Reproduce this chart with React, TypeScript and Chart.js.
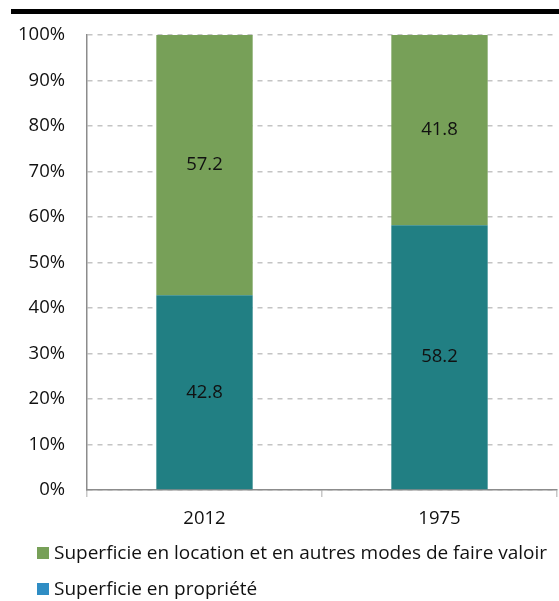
import React, { useEffect, useRef } from "react";
import { Chart, registerables } from "chart.js";

Chart.register(...registerables);

const categories = ["2012", "1975"];
const proprieteValues = [42.8, 58.2];
const locationValues = [57.2, 41.8];
const seriesLabels = [
  "Superficie en propriété",
  "Superficie en location et en autres modes de faire valoir",
];
const barColors = ["#217F83", "#77A058"];
const legendColors = ["#2F8DC4", "#77A058"];
const yTicks = [0, 10, 20, 30, 40, 50, 60, 70, 80, 90, 100];

const FONT = "'Open Sans', sans-serif";

const topRulePlugin = {
  id: "topRule",
  beforeDraw(chart: any) {
    const ctx = chart.ctx;
    ctx.save();
    ctx.fillStyle = "#000";
    ctx.fillRect(11, 9, 548, 5);
    ctx.restore();
  },
};

const valueLabelsPlugin = {
  id: "valueLabels",
  afterDatasetsDraw(chart: any) {
    const ctx = chart.ctx;
    ctx.save();
    ctx.font = `18.5px ${FONT}`;
    ctx.fillStyle = "#111";
    ctx.textAlign = "center";
    ctx.textBaseline = "middle";
    chart.data.datasets.forEach((ds: any, i: number) => {
      const meta = chart.getDatasetMeta(i);
      meta.data.forEach((bar: any, j: number) => {
        const { x, y, base } = bar.getProps(["x", "y", "base"], true);
        ctx.fillText(ds.data[j].toFixed(1), x, (y + base) / 2);
      });
    });
    ctx.restore();
  },
};

const customLegendPlugin = {
  id: "customLegend",
  afterDraw(chart: any) {
    const ctx = chart.ctx;
    ctx.save();
    ctx.font = `19px ${FONT}`;
    ctx.textBaseline = "middle";
    ctx.textAlign = "left";
    const order = [1, 0];
    order.forEach((idx, row) => {
      const cy = 553 + row * 36;
      ctx.fillStyle = legendColors[idx];
      ctx.fillRect(37, cy - 6, 12, 12);
      ctx.fillStyle = "#111";
      ctx.fillText(seriesLabels[idx], 54, cy + 1);
    });
    ctx.restore();
  },
};

export default function App() {
  const ref = useRef<HTMLCanvasElement | null>(null);
  useEffect(() => {
    if (!ref.current) return;
    const chart = new Chart(ref.current, {
      type: "bar",
      data: {
        labels: categories,
        datasets: [
          {
            label: seriesLabels[0],
            data: proprieteValues,
            backgroundColor: barColors[0],
            barPercentage: 0.41,
            categoryPercentage: 1,
          },
          {
            label: seriesLabels[1],
            data: locationValues,
            backgroundColor: barColors[1],
            barPercentage: 0.41,
            categoryPercentage: 1,
          },
        ],
      },
      options: {
        responsive: false,
        animation: false,
        layout: { padding: { left: 0, top: 35, right: 2, bottom: 66 } },
        plugins: {
          legend: { display: false },
          tooltip: { enabled: false },
        },
        scales: {
          x: {
            stacked: true,
            afterFit(scale: any) {
              scale.height = 45;
            },
            grid: {
              offset: true,
              drawOnChartArea: false,
              drawTicks: true,
              tickLength: 7,
              color: "#c8c8c8",
              lineWidth: 1.5,
            },
            border: { display: true, color: "#8c8c8c", width: 1.5 },
            ticks: {
              font: { family: FONT, size: 18.5 },
              color: "#111",
              padding: 11,
            },
          },
          y: {
            stacked: true,
            min: 0,
            max: 100,
            afterFit(scale: any) {
              scale.width = 87;
            },
            afterBuildTicks(scale: any) {
              scale.ticks = yTicks.map((v) => ({ value: v }));
            },
            grid: {
              drawTicks: false,
              color: "#c4c4c4",
              lineWidth: 1.5,
            },
            border: { display: true, color: "#8c8c8c", width: 1.5, dash: [5, 5] },
            ticks: {
              font: { family: FONT, size: 18.5 },
              color: "#111",
              padding: 22,
              callback: (v: any) => `${v}%`,
            },
          },
        },
      },
      plugins: [topRulePlugin, valueLabelsPlugin, customLegendPlugin],
    } as any);
    return () => chart.destroy();
  }, []);
  return (
    <div style={{ position: "absolute", left: 0, top: 0, width: 559, height: 601 }}>
      <canvas ref={ref} width={559} height={601} style={{ width: 559, height: 601 }} />
    </div>
  );
}
